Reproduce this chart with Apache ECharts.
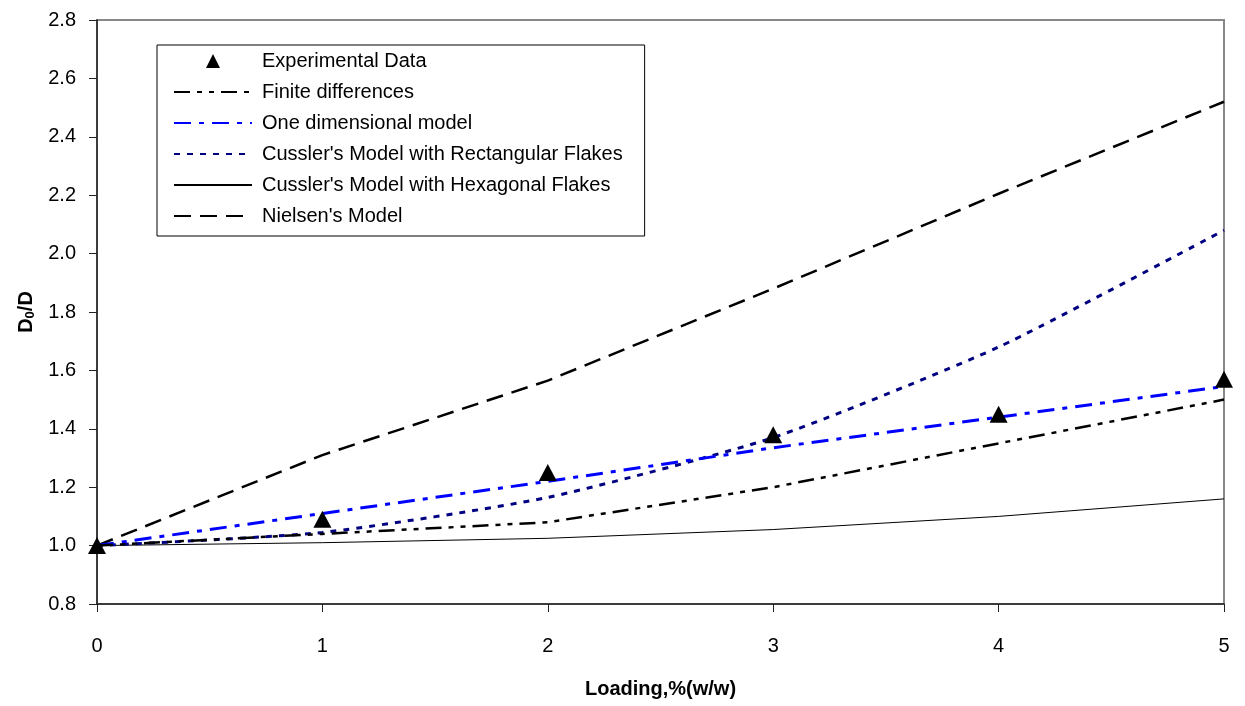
<!DOCTYPE html>
<html>
<head>
<meta charset="utf-8">
<script src="https://cdn.jsdelivr.net/npm/echarts@6/dist/echarts.min.js"></script>
<style>
html,body{margin:0;padding:0;background:#fff;}
#chart{width:1245px;height:706px;}
</style>
</head>
<body>
<div id="chart"></div>
<script>
// ---- data ----
var loading = [0, 1, 2, 3, 4, 5];
var experimental = [1.00, 1.09, 1.25, 1.38, 1.45, 1.57];
var finiteDiff = [1.00, 1.04, 1.08, 1.20, 1.35, 1.50];
var oneDim = [1.00, 1.11, 1.22, 1.335, 1.44, 1.545];
var cusslerRect = [1.00, 1.045, 1.165, 1.37, 1.68, 2.08];
var cusslerHex = [1.00, 1.01, 1.025, 1.055, 1.10, 1.16];
var nielsen = [1.00, 1.31, 1.565, 1.88, 2.205, 2.52];
var seriesNames = [
  'Experimental Data',
  'Finite differences',
  'One dimensional model',
  "Cussler's Model with Rectangular Flakes",
  "Cussler's Model with Hexagonal Flakes",
  "Nielsen's Model"
];

function pairs(ys) { return loading.map(function (x, i) { return [x, ys[i]]; }); }

var FONT = '"Liberation Sans", Arial, sans-serif';
var chart = echarts.init(document.getElementById('chart'), null, {renderer: 'canvas'});

// triangle centred in a 78x14 box (tiny degenerate shapes at the ends fix the box width)
var triIcon = 'path://M32,14 L39,0.5 L46,14 Z M0,14 L0.01,14 L0,13.99 Z M78,14 L77.99,14 L78,13.99 Z';

var legendData = seriesNames.map(function (n, i) {
  if (i === 0) {
    return {name: n, icon: triIcon, itemStyle: {color: '#000', opacity: 1}};
  }
  return {name: n};
});

chart.setOption({
  animation: false,
  backgroundColor: '#ffffff',
  textStyle: {fontFamily: FONT},
  grid: {
    left: 97, right: 21, top: 20, bottom: 102,
    show: true, borderColor: '#888888', borderWidth: 2, backgroundColor: 'transparent'
  },
  legend: {
    orient: 'vertical',
    left: 157, top: 45,
    data: legendData,
    backgroundColor: '#ffffff',
    borderColor: '#000000', borderWidth: 1, borderRadius: 0,
    padding: [6, 22, 10, 16],
    itemWidth: 78, itemHeight: 14, itemGap: 11,
    symbolKeepAspect: false,
    itemStyle: {opacity: 0},
    textStyle: {fontFamily: FONT, fontSize: 20, color: '#000', lineHeight: 20, padding: [0, 0, 0, 5]},
    selectedMode: false
  },
  xAxis: {
    type: 'value', min: 0, max: 5, interval: 1,
    name: 'Loading,%(w/w)', nameLocation: 'middle', nameGap: 75,
    nameTextStyle: {fontFamily: FONT, fontSize: 20, fontWeight: 'bold', color: '#000'},
    axisLine: {show: true, onZero: false, lineStyle: {color: '#222', width: 1.5}},
    axisTick: {show: true, inside: false, length: 8, lineStyle: {color: '#222', width: 1}},
    axisLabel: {fontFamily: FONT, fontSize: 20, color: '#000', margin: 32},
    splitLine: {show: false}
  },
  yAxis: {
    type: 'value', min: 0.8, max: 2.8, interval: 0.2,
    name: '{a|D}{b|0}{a|/D}', nameLocation: 'middle', nameGap: 56, nameRotate: 90,
    nameTextStyle: {
      rich: {
        a: {fontFamily: FONT, fontSize: 20, fontWeight: 'bold', color: '#000'},
        b: {fontFamily: FONT, fontSize: 13, fontWeight: 'bold', color: '#000', verticalAlign: 'bottom', padding: [8, 0, 0, 0]}
      }
    },
    axisLine: {show: true, onZero: false, lineStyle: {color: '#222', width: 1.5}},
    axisTick: {show: true, inside: false, length: 8, lineStyle: {color: '#222', width: 1}},
    axisLabel: {fontFamily: FONT, fontSize: 20, color: '#000', margin: 21,
      formatter: function (v) { return v.toFixed(1); }},
    splitLine: {show: false}
  },
  series: [
    {
      name: seriesNames[5], type: 'line', data: pairs(nielsen), symbol: 'none', z: 2,
      lineStyle: {color: '#000000', width: 2.5, type: [17, 9]}, itemStyle: {color: '#000'}
    },
    {
      name: seriesNames[4], type: 'line', data: pairs(cusslerHex), symbol: 'none', z: 2,
      lineStyle: {color: '#000000', width: 1, type: 'solid'}, itemStyle: {color: '#000'}
    },
    {
      name: seriesNames[3], type: 'line', data: pairs(cusslerRect), symbol: 'none', z: 3, smooth: 0.2,
      lineStyle: {color: '#000080', width: 3, type: [6, 7]}, itemStyle: {color: '#000080'}
    },
    {
      name: seriesNames[2], type: 'line', data: pairs(oneDim), symbol: 'none', z: 3,
      lineStyle: {color: '#0000ff', width: 3, type: [17, 8, 5, 8]}, itemStyle: {color: '#0000ff'}
    },
    {
      name: seriesNames[1], type: 'line', data: pairs(finiteDiff), symbol: 'none', z: 3,
      lineStyle: {color: '#000000', width: 2.5, type: [16, 7, 5, 7, 5, 7]}, itemStyle: {color: '#000'}
    },
    {
      name: seriesNames[0], type: 'scatter', data: pairs(experimental), z: 5, clip: false,
      symbol: 'triangle', symbolSize: [18, 17], itemStyle: {color: '#000000', opacity: 1}
    }
  ]
});
</script>
</body>
</html>
